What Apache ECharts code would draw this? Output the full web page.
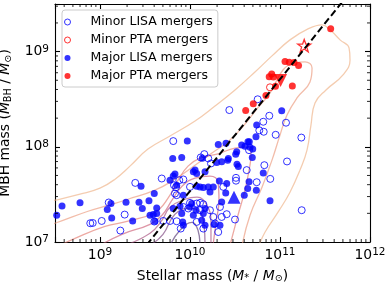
<!DOCTYPE html>
<html><head><meta charset="utf-8">
<script src="https://cdn.jsdelivr.net/npm/echarts@6/dist/echarts.min.js"></script>
<style>html,body{margin:0;padding:0;background:#fff}#c{width:391px;height:285px}</style>
</head><body><div id="c"></div>
<script>
// ---- data: [log10 M*, log10 MBH] ----
const minorLisa = [[9.392,7.621],[9.097,7.415],[9.274,7.288],[9.019,7.221],[8.892,7.197],[8.919,7.200],[9.226,7.120],[9.603,7.215],[9.814,8.060],[10.437,8.386],[10.159,7.923],[10.119,7.888],[10.203,7.878],[10.233,7.825],[9.686,7.667],[9.881,7.649],[9.926,7.657],[9.822,7.597],[9.844,7.576],[10.000,7.579],[9.833,7.509],[9.852,7.492],[10.370,7.579],[9.926,7.368],[9.981,7.352],[10.074,7.404],[10.111,7.411],[10.148,7.397],[10.333,7.368],[10.000,7.411],[9.703,7.221],[9.778,7.221],[9.852,7.218],[9.897,7.141],[10.074,7.211],[10.259,7.263],[10.352,7.263],[10.278,7.194],[10.148,7.141],[10.314,7.105],[10.222,7.334],[10.656,7.965],[10.630,7.755],[10.511,7.674],[10.511,7.644],[10.741,7.628],[10.826,7.807],[10.892,7.663],[11.078,7.846],[11.241,7.334],[10.408,7.292],[10.500,7.236],[10.752,8.499],[10.881,8.326],[10.814,8.263],[10.770,8.173],[10.819,8.158],[11.067,8.253],[10.952,8.126],[11.237,8.097],[10.111,7.334]];
const minorPta = [[10.889,8.625]];
const majorLisa = [[8.519,7.281],[8.578,7.379],[8.778,7.411],[9.122,7.404],[9.081,7.341],[9.130,7.253],[9.289,7.418],[9.363,7.221],[9.433,7.418],[9.470,7.352],[9.456,7.586],[9.544,7.432],[9.603,7.509],[9.630,7.358],[9.970,8.060],[9.808,7.878],[9.908,7.888],[10.314,8.025],[10.400,8.036],[10.426,7.878],[10.519,7.947],[10.574,8.018],[10.644,8.053],[10.667,7.994],[10.297,7.836],[10.352,7.842],[10.137,7.881],[10.037,7.737],[10.056,7.755],[10.074,7.720],[10.167,7.737],[10.326,7.642],[9.814,7.692],[9.833,7.713],[9.778,7.649],[9.852,7.597],[10.074,7.586],[10.111,7.579],[10.148,7.573],[10.203,7.579],[10.259,7.579],[10.222,7.526],[10.408,7.615],[9.926,7.492],[9.814,7.352],[9.889,7.376],[10.167,7.352],[10.352,7.421],[10.019,7.404],[9.556,7.281],[9.592,7.288],[9.630,7.299],[9.611,7.218],[9.908,7.299],[9.919,7.211],[9.926,7.176],[10.148,7.299],[10.130,7.228],[10.333,7.176],[10.000,7.368],[10.067,7.334],[10.037,7.281],[10.167,7.176],[10.267,7.183],[10.508,7.923],[10.419,7.860],[10.522,7.818],[10.537,7.792],[10.692,7.888],[10.814,7.726],[10.656,7.632],[10.641,7.562],[10.737,7.544],[10.603,7.492],[10.397,7.516],[10.889,7.432],[11.019,8.379],[10.741,8.228],[10.733,8.105],[10.659,8.053],[10.611,8.007],[10.697,7.976]];
const majorPta = [[11.563,9.239],[11.056,8.897],[11.103,8.888],[11.156,8.886],[11.206,8.855],[10.908,8.765],[10.880,8.737],[10.926,8.734],[10.950,8.636],[11.137,8.639],[10.844,8.539],[10.703,8.453],[10.619,8.381]];
const starPoint = [[11.269,9.063]];
const redTriangle = [[11.006,8.697]];
const blueTriangle = [[10.489,7.471]];
// scaling relation (log MBH = a + b (log M* - 11)), drawn between these stellar masses
const relA = 8.71, relB = 1.175, relLogX = [9.3, 11.9];
// density contours [log10 M*, log10 MBH], outermost first
const contours = [
 [[8.333,7.407],[8.5,7.439],[8.778,7.502],[9.0,7.565],[9.167,7.660],[9.333,7.797],[9.533,7.976],[9.778,8.113],[10.056,8.271],[10.278,8.429],[10.5,8.597],[10.722,8.786],[10.911,8.955],[11.111,9.123],[11.311,9.239],[11.467,9.281],[11.567,9.218],[11.667,9.123],[11.767,9.039],[11.778,8.913],[11.7,8.755],[11.511,8.597],[11.389,8.460],[11.344,8.228],[11.3,7.965],[11.222,7.755],[11.111,7.523],[10.978,7.313],[10.833,7.102],[10.744,6.913]],
 [[8.333,7.155],[8.5,7.197],[8.867,7.323],[9.133,7.397],[9.311,7.449],[9.611,7.544],[9.833,7.660],[10.056,7.807],[10.244,7.934],[10.444,8.071],[10.611,8.239],[10.733,8.386],[10.889,8.565],[11.033,8.807],[11.167,8.881],[11.278,8.892],[11.356,8.828],[11.333,8.681],[11.189,8.513],[11.078,8.334],[11.0,8.123],[10.911,7.860],[10.8,7.576],[10.667,7.281],[10.578,6.965]],
 [[8.556,6.965],[8.722,7.039],[9.056,7.165],[9.311,7.218],[9.611,7.313],[9.756,7.460],[9.867,7.649],[9.978,7.797],[10.111,7.881],[10.3,7.923],[10.5,7.986],[10.633,7.997],[10.678,7.913],[10.656,7.755],[10.611,7.544],[10.533,7.281],[10.444,6.965]],
 [[9.0,6.965],[9.244,7.081],[9.556,7.186],[9.689,7.281],[9.8,7.439],[9.911,7.586],[10.056,7.671],[10.222,7.692],[10.311,7.628],[10.322,7.439],[10.289,7.207],[10.256,6.965]],
 [[9.278,6.965],[9.556,7.092],[9.689,7.229],[9.778,7.365],[9.944,7.449],[10.078,7.471],[10.189,7.386],[10.233,7.207],[10.233,6.965]],
 [[9.556,6.965],[9.7,7.081],[9.833,7.292],[10.0,7.355],[10.111,7.313],[10.156,7.176],[10.167,6.965]],
 [[9.778,6.965],[9.889,7.123],[10.022,7.207],[10.089,7.123],[10.111,6.965]]
];
const contourColors = ['#efb68f','#eda084','#e5857a','#d06a80','#ad5a86','#855088','#62477f'];
// axes
const xLogRange = [8.5, 12], yLogRange = [7, 9.5];
const xTickExps = [9, 10, 11, 12], yTickExps = [7, 8, 9];
const minorMantissas = [2,3,4,5,6,7,8,9];
const legendNames = ['Minor LISA mergers', 'Minor PTA mergers', 'Major LISA mergers', 'Major PTA mergers'];

const FONT = 'DejaVu Sans';
const BLUE = '#0000ff', RED = '#ff0000', NOFILL = 'rgba(0,0,0,0)';
const toVal = p => [Math.pow(10, p[0]), Math.pow(10, p[1])];
const xMin = Math.pow(10, xLogRange[0]), xMax = Math.pow(10, xLogRange[1]);
const yMin = Math.pow(10, yLogRange[0]), yMax = Math.pow(10, yLogRange[1]);

function tickFmt(exps) {
  return function (v) {
    const l = Math.log10(v), e = Math.round(l);
    if (Math.abs(l - e) > 1e-6 || exps.indexOf(e) < 0) return '';
    return '10{sup|' + e + '}';
  };
}
const labelRich = { sup: { fontFamily: FONT, fontSize: 10.5, lineHeight: 9, verticalAlign: 'top', color: '#000' } };
const nameRich = {
  i: { fontFamily: FONT, fontSize: 13.9, fontStyle: 'italic', lineHeight: 16, color: '#000' },
  sub: { fontFamily: FONT, fontSize: 9.7, lineHeight: 7, verticalAlign: 'bottom', color: '#000' }
};

const minorTicks = [];
for (let d = 8; d <= 11; d++) minorMantissas.forEach(m => { const v = m * Math.pow(10, d); if (v > xMin && v < xMax) minorTicks.push([v, yMin, 0]); });
for (let d = 7; d <= 9; d++) minorMantissas.forEach(m => { const v = m * Math.pow(10, d); if (v > yMin && v < yMax) minorTicks.push([xMin, v, 1]); });

const axisBase = {
  type: 'log', logBase: 10,
  splitLine: { show: false },
  axisLine: { show: true, onZero: false, lineStyle: { color: '#000', width: 1.1 } },
  axisTick: { show: true, inside: true, length: 5, lineStyle: { color: '#000', width: 1.1 } },
  minorTick: { show: false }
};

const series = [];
contours.forEach((c, i) => series.push({
  type: 'line', data: c.map(toVal), smooth: 0.45, symbol: 'none', showSymbol: false,
  lineStyle: { color: contourColors[i], width: 1.3, opacity: 0.7 },
  silent: true, z: 1, animation: false, clip: true, emphasis: { disabled: true }
}));
const scatterBase = { type: 'scatter', symbolKeepAspect: true, animation: false, z: 3, emphasis: { disabled: true }, clip: true };
const styles = [
  { color: NOFILL, borderColor: BLUE, borderWidth: 1 },
  { color: NOFILL, borderColor: RED, borderWidth: 1 },
  { color: BLUE, borderWidth: 0 },
  { color: RED, borderWidth: 0 }
];
[minorLisa, minorPta, majorLisa, majorPta].forEach((d, i) => series.push(Object.assign({}, scatterBase, {
  name: legendNames[i], data: d.map(toVal), symbol: 'circle', symbolSize: 7, itemStyle: styles[i]
})));
series.push(Object.assign({}, scatterBase, { name: 'blue triangle', data: blueTriangle.map(toVal), symbol: 'triangle', symbolSize: 13,
  itemStyle: { color: BLUE } }));
series.push(Object.assign({}, scatterBase, { name: 'red triangle', data: redTriangle.map(toVal), symbol: 'triangle', symbolSize: 13, symbolRotate: 180,
  itemStyle: { color: RED } }));
series.push(Object.assign({}, scatterBase, { name: 'red star', data: starPoint.map(toVal),
  symbol: 'path://M0,-10 L2.35,-3.24 L9.51,-3.09 L3.8,1.24 L5.88,8.09 L0,4 L-5.88,8.09 L-3.8,1.24 L-9.51,-3.09 L-2.35,-3.24 Z',
  symbolSize: 13, itemStyle: { color: 'rgba(255,255,255,0)', borderColor: RED, borderWidth: 1.3 } }));
series.push({
  type: 'line', name: 'relation', data: relLogX.map(lx => [Math.pow(10, lx), Math.pow(10, relA + relB * (lx - 11))]),
  symbol: 'none', showSymbol: false, lineStyle: { color: '#000', width: 2, type: [7, 3.5] },
  z: 4, animation: false, silent: true, clip: true, emphasis: { disabled: true }
});
series.push({
  type: 'custom', name: 'minor ticks', data: minorTicks, silent: true, z: 6, animation: false, clip: false,
  renderItem: function (params, api) {
    const cs = params.coordSys;
    const p = api.coord([api.value(0), api.value(1)]);
    const L = 3, st = { stroke: '#000', lineWidth: 0.85 };
    if (api.value(2) === 0) {
      return { type: 'group', children: [
        { type: 'line', shape: { x1: p[0], y1: cs.y + cs.height, x2: p[0], y2: cs.y + cs.height - L }, style: st },
        { type: 'line', shape: { x1: p[0], y1: cs.y, x2: p[0], y2: cs.y + L }, style: st } ] };
    }
    return { type: 'group', children: [
      { type: 'line', shape: { x1: cs.x, y1: p[1], x2: cs.x + L, y2: p[1] }, style: st },
      { type: 'line', shape: { x1: cs.x + cs.width, y1: p[1], x2: cs.x + cs.width - L, y2: p[1] }, style: st } ] };
  }
});

const chart = echarts.init(document.getElementById('c'), null, { renderer: 'canvas' });
chart.setOption({
  animation: false,
  backgroundColor: '#fff',
  grid: { left: 55, right: 21, top: 4, bottom: 43, outerBoundsMode: 'none', containLabel: false },
  legend: {
    data: legendNames.map((n, i) => ({ name: n, icon: 'circle', itemStyle: styles[i] })),
    orient: 'vertical', left: 62, top: 10, itemWidth: 30, itemHeight: 6, itemGap: 4,
    padding: [5, 5, 4, 2], borderColor: '#cccccc', borderWidth: 1, borderRadius: 3,
    backgroundColor: 'rgba(255,255,255,0.8)', selectedMode: false, z: 10,
    textStyle: { fontFamily: FONT, fontSize: 12.5, color: '#000', lineHeight: 14, padding: [0, 0, 0, 3] }
  },
  xAxis: [
    Object.assign({}, axisBase, {
      min: xMin, max: xMax, position: 'bottom',
      axisLabel: { formatter: tickFmt(xTickExps), fontFamily: FONT, fontSize: 13.9, lineHeight: 16, color: '#000', margin: 5, rich: labelRich },
      name: 'Stellar mass ({i|M}{sub|*} / {i|M}{sub|⊙})', nameLocation: 'middle', nameGap: 22,
      nameTextStyle: { fontFamily: FONT, fontSize: 13.9, lineHeight: 16, color: '#000', rich: nameRich }
    }),
    Object.assign({}, axisBase, { min: xMin, max: xMax, position: 'top', axisLabel: { show: false } })
  ],
  yAxis: [
    Object.assign({}, axisBase, {
      min: yMin, max: yMax, position: 'left',
      axisLabel: { formatter: tickFmt(yTickExps), fontFamily: FONT, fontSize: 13.9, lineHeight: 16, color: '#000', margin: 6, rich: labelRich },
      name: 'MBH mass ({i|M}{sub|BH} / {i|M}{sub|⊙})', nameLocation: 'middle', nameGap: 35,
      nameTextStyle: { fontFamily: FONT, fontSize: 13.9, lineHeight: 16, color: '#000', rich: nameRich }
    }),
    Object.assign({}, axisBase, { min: yMin, max: yMax, position: 'right', axisLabel: { show: false } })
  ],
  series: series
});
</script></body></html>
